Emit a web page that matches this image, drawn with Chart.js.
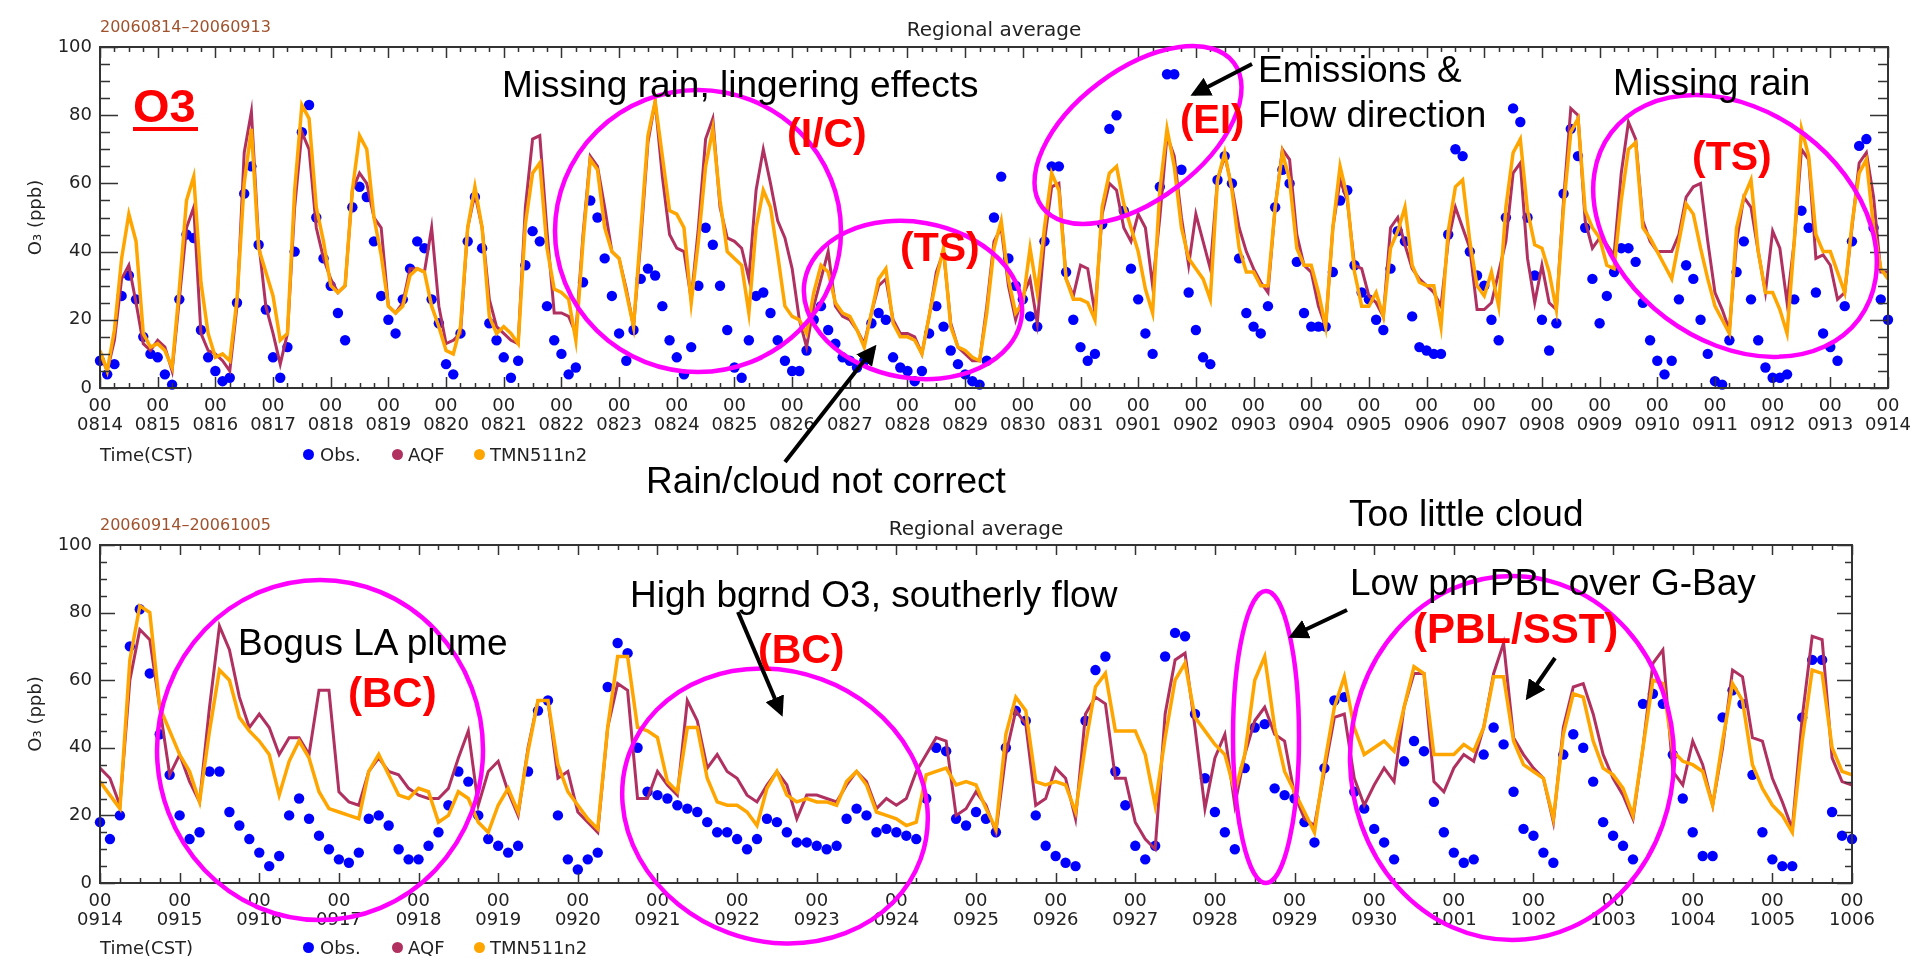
<!DOCTYPE html>
<html>
<head>
<meta charset="utf-8">
<script src="https://cdn.jsdelivr.net/npm/chart.js@4.4.1/dist/chart.umd.min.js"></script>
<style>
  html, body { margin: 0; padding: 0; background: #fff; }
  body { width: 1923px; height: 964px; position: relative; overflow: hidden; font-family: "DejaVu Sans", sans-serif; }
  canvas { position: absolute; left: 0; }
  .lbl { position: absolute; white-space: nowrap; line-height: 1; }
  .date { color: #a0522d; font-size: 16px; }
  .ttl { color: #222; font-size: 20px; transform: translateX(-50%); }
  .leg { color: #222; font-size: 18px; }
  .dot { position: absolute; width: 11px; height: 11px; border-radius: 50%; }
  svg { position: absolute; left: 0; top: 0; }
  svg text { font-family: "Liberation Sans", Arial, sans-serif; }
  .note { font-size: 37px; fill: #000; }
  .red { font-weight: bold; fill: #ff0000; }
</style>
</head>
<body>

<canvas id="topChart" width="1923" height="480" style="top:0px"></canvas>
<canvas id="botChart" width="1923" height="484" style="top:480px"></canvas>

<div class="lbl date" style="left:100px; top:19px">20060814&#8211;20060913</div>
<div class="lbl ttl" style="left:994px; top:19px">Regional average</div>
<div class="lbl leg" style="left:100px; top:446px">Time(CST)</div>
<div class="dot" style="left:303px; top:449px; background:#0000ff"></div>
<div class="lbl leg" style="left:320px; top:446px">Obs.</div>
<div class="dot" style="left:392px; top:449px; background:#b03060"></div>
<div class="lbl leg" style="left:408px; top:446px">AQF</div>
<div class="dot" style="left:474px; top:449px; background:#ffa500"></div>
<div class="lbl leg" style="left:490px; top:446px">TMN511n2</div>

<div class="lbl date" style="left:100px; top:517px">20060914&#8211;20061005</div>
<div class="lbl ttl" style="left:976px; top:518px">Regional average</div>
<div class="lbl leg" style="left:100px; top:939px">Time(CST)</div>
<div class="dot" style="left:303px; top:942px; background:#0000ff"></div>
<div class="lbl leg" style="left:320px; top:939px">Obs.</div>
<div class="dot" style="left:392px; top:942px; background:#b03060"></div>
<div class="lbl leg" style="left:408px; top:939px">AQF</div>
<div class="dot" style="left:474px; top:942px; background:#ffa500"></div>
<div class="lbl leg" style="left:490px; top:939px">TMN511n2</div>

<svg width="1923" height="964" viewBox="0 0 1923 964">
  <defs>
    <marker id="head" markerWidth="5" markerHeight="5" refX="4" refY="2.5" orient="auto" markerUnits="strokeWidth">
      <path d="M0,0 L5,2.5 L0,5 z" fill="#000"></path>
    </marker>
  </defs>
  <g fill="none" stroke="#ff00ff" stroke-width="4.5">
    <ellipse cx="698" cy="231" rx="143" ry="141"></ellipse>
    <ellipse cx="913" cy="300" rx="110" ry="78" transform="rotate(10 913 300)"></ellipse>
    <ellipse cx="1138" cy="135" rx="120" ry="65" transform="rotate(-37 1138 135)"></ellipse>
    <ellipse cx="1735" cy="226" rx="155" ry="115" transform="rotate(37 1735 226)"></ellipse>
    <ellipse cx="320" cy="750" rx="163" ry="170"></ellipse>
    <ellipse cx="775" cy="806" rx="155" ry="135" transform="rotate(20 775 806)"></ellipse>
    <ellipse cx="1266" cy="737" rx="33" ry="146"></ellipse>
    <ellipse cx="1512" cy="758" rx="162" ry="182"></ellipse>
  </g>
  <g stroke="#000" stroke-width="4" marker-end="url(#head)">
    <line x1="785" y1="462" x2="874" y2="348"></line>
    <line x1="1252" y1="64" x2="1194" y2="94"></line>
    <line x1="738" y1="612" x2="781" y2="713"></line>
    <line x1="1347" y1="610" x2="1292" y2="636"></line>
    <line x1="1555" y1="658" x2="1528" y2="697"></line>
  </g>
  <text class="red" x="133" y="122" font-size="47">O3</text>
  <rect x="133" y="127" width="65" height="4" fill="#ff0000"></rect>
  <text class="note" x="502" y="97">Missing rain, lingering effects</text>
  <text class="red" x="787" y="147" font-size="41">(I/C)</text>
  <text class="red" x="900" y="261" font-size="41">(TS)</text>
  <text class="note" x="646" y="493">Rain/cloud not correct</text>
  <text class="note" x="1258" y="82">Emissions &amp;</text>
  <text class="note" x="1258" y="127">Flow direction</text>
  <text class="red" x="1180" y="133" font-size="40">(EI)</text>
  <text class="note" x="1613" y="95">Missing rain</text>
  <text class="red" x="1692" y="170" font-size="41">(TS)</text>

  <text class="note" x="1349" y="526">Too little cloud</text>
  <text class="note" x="238" y="655">Bogus LA plume</text>
  <text class="red" x="348" y="707" font-size="42">(BC)</text>
  <text class="note" x="630" y="607">High bgrnd O3, southerly flow</text>
  <text class="red" x="758" y="663" font-size="41">(BC)</text>
  <text class="note" x="1350" y="595">Low pm PBL over G-Bay</text>
  <text class="red" x="1413" y="643" font-size="42">(PBL/SST)</text>
</svg>

<script>
// 3-hourly values (00,03,...,21 CST), one row per day, last value = 00 of the closing day
var topDays = ['0814','0815','0816','0817','0818','0819','0820','0821','0822','0823','0824',
  '0825','0826','0827','0828','0829','0830','0831','0901','0902','0903','0904','0905',
  '0906','0907','0908','0909','0910','0911','0912','0913','0914'];

var topObs = [
  8,4,7,27,33,26,15,10,
  9,4,1,26,45,44,17,9,
  5,2,3,25,57,65,42,23,
  9,3,12,40,75,83,50,38,
  30,22,14,53,59,56,43,27,
  20,16,26,35,43,41,26,19,
  7,4,16,43,56,41,19,14,
  9,3,8,36,46,43,24,14,
  10,4,6,31,55,50,38,27,
  16,8,17,32,35,33,24,14,
  9,4,12,30,47,42,30,17,
  6,3,14,27,28,22,14,8,
  5,5,11,20,24,17,13,9,
  8,6,8,19,22,20,9,6,
  5,2,5,16,24,18,11,7,
  4,2,1,8,50,62,38,30,
  26,21,18,43,65,65,34,20,
  12,8,10,48,76,80,52,35,
  26,16,10,59,92,92,64,28,
  17,9,7,61,68,60,38,22,
  18,16,24,53,64,60,37,22,
  18,18,18,34,55,58,36,28,
  26,20,17,35,46,43,21,12,
  11,10,10,45,70,68,40,33,
  30,20,14,50,82,78,50,33,
  20,11,19,57,76,68,47,32,
  19,27,34,41,41,37,25,14,
  8,4,8,26,36,32,20,10,
  2,1,14,34,43,26,14,6,
  3,3,4,26,52,47,28,16,
  12,8,24,43,71,73,47,26,
  20
];

var topAqf = [
  10,5,14,32,36,25,13,11,
  14,12,5,26,47,53,16,11,
  10,8,5,24,69,81,43,24,
  16,7,16,53,75,70,47,38,
  32,28,30,58,63,60,50,47,
  24,22,25,35,35,34,47,24,
  13,14,16,47,57,47,26,18,
  16,14,13,53,73,74,46,22,
  22,21,16,45,68,65,53,40,
  38,29,18,43,72,84,62,45,
  41,40,26,47,73,79,53,44,
  43,41,32,58,70,60,49,44,
  35,20,12,24,32,40,24,21,
  20,17,13,22,30,32,20,16,
  16,15,10,21,34,40,19,12,
  10,8,8,24,43,47,30,20,
  27,32,19,43,59,60,32,27,
  36,35,22,51,60,58,47,43,
  51,47,30,50,74,68,50,36,
  51,43,35,61,68,59,47,40,
  35,31,28,53,70,67,45,36,
  34,24,18,47,61,55,36,35,
  27,25,21,47,50,42,35,32,
  30,28,24,43,53,47,41,23,
  23,25,34,43,63,66,38,25,
  36,25,23,55,82,80,49,41,
  44,42,39,63,78,73,49,43,
  40,40,40,45,56,59,60,43,
  28,23,17,43,56,53,40,28,
  46,41,25,43,70,67,38,39,
  36,26,28,47,66,69,56,34,
  34
];

var topTmn = [
  11,5,17,38,51,43,16,12,
  13,11,6,29,55,62,31,16,
  9,10,8,26,60,76,41,34,
  27,14,16,58,83,79,53,43,
  30,28,30,58,74,70,50,39,
  24,22,24,33,35,34,24,18,
  11,10,18,47,59,47,21,16,
  18,16,13,48,63,66,41,29,
  28,26,14,43,67,64,47,40,
  38,28,18,46,74,84,68,52,
  51,47,25,43,65,76,55,40,
  38,36,22,47,58,53,39,24,
  21,20,16,28,36,34,25,22,
  21,17,12,22,32,35,19,15,
  15,14,10,21,32,41,18,12,
  11,9,8,22,41,49,32,22,
  25,41,28,47,63,58,32,26,
  26,25,20,53,63,65,54,47,
  40,29,22,58,76,65,47,38,
  35,32,26,61,69,58,41,34,
  34,30,30,53,69,61,41,36,
  36,28,18,47,65,56,34,24,
  24,28,21,41,46,53,36,31,
  30,30,18,46,59,61,43,30,
  27,34,24,53,69,73,52,42,
  41,34,23,53,75,79,52,47,
  44,36,35,55,70,72,47,44,
  40,36,32,43,54,51,41,32,
  24,20,16,47,56,61,40,28,
  28,23,16,43,76,68,45,40,
  40,34,28,48,63,67,47,35,
  32
];

var botDays = ['0914','0915','0916','0917','0918','0919','0920','0921','0922','0923','0924',
  '0925','0926','0927','0928','0929','0930','1001','1002','1003','1004','1005','1006'];

var botObs = [
  18,13,20,70,81,62,44,32,
  20,13,15,33,33,21,17,13,
  9,5,8,20,25,19,14,10,
  7,6,9,19,20,17,10,7,
  7,11,15,23,33,30,20,13,
  11,9,11,33,51,54,20,7,
  4,7,9,58,71,68,40,27,
  26,25,23,22,21,18,15,15,
  13,10,13,19,18,15,12,12,
  11,10,11,19,22,20,15,16,
  15,14,13,25,40,39,19,17,
  21,19,15,40,51,48,20,11,
  8,6,5,48,63,67,33,23,
  11,7,11,67,74,73,50,31,
  21,15,10,34,46,47,28,26,
  25,18,12,34,54,55,27,22,
  16,12,7,36,42,39,24,15,
  9,6,7,38,46,41,27,16,
  14,9,6,38,44,40,30,18,
  14,11,7,53,56,53,38,25,
  15,8,8,49,57,53,32,15,
  7,5,5,49,66,66,21,14,
  13
];

var botAqf = [
  34,31,23,60,75,72,52,32,
  38,30,24,52,76,69,55,46,
  50,46,38,43,43,38,57,57,
  27,24,23,33,37,33,32,28,
  26,25,25,28,37,45,23,33,
  36,27,20,40,54,54,31,33,
  21,18,15,46,59,57,25,25,
  33,29,26,54,48,34,38,33,
  31,26,24,29,33,29,19,26,
  26,25,24,29,33,30,22,25,
  23,25,33,38,43,42,20,22,
  27,23,15,38,51,47,23,25,
  34,31,19,50,55,53,31,31,
  18,13,10,50,66,68,46,22,
  37,44,23,38,48,52,44,42,
  26,19,17,33,49,50,31,23,
  29,34,30,52,62,62,30,27,
  34,38,36,46,62,71,43,38,
  34,31,18,46,58,59,50,38,
  31,26,19,40,65,69,33,29,
  42,35,23,40,63,61,43,42,
  31,24,16,49,73,72,37,30,
  29
];

var botTmn = [
  30,26,22,66,82,80,52,45,
  38,33,24,45,63,60,49,45,
  42,38,26,36,42,37,27,22,
  21,20,19,33,38,32,26,25,
  28,27,18,20,27,25,18,15,
  23,28,21,39,54,54,35,27,
  23,19,16,46,67,67,46,45,
  43,30,27,46,46,31,24,23,
  23,21,17,28,33,26,24,25,
  24,24,23,30,33,29,21,20,
  19,17,18,32,33,34,29,30,
  29,22,16,44,55,51,30,29,
  30,29,21,41,58,62,45,45,
  45,38,23,43,60,65,49,45,
  41,38,27,38,60,67,46,33,
  27,21,15,35,52,61,46,38,
  40,42,39,52,64,62,38,38,
  38,41,39,46,61,61,42,35,
  33,31,19,44,56,55,42,34,
  32,28,20,40,60,59,39,36,
  35,33,23,42,59,54,35,28,
  23,20,15,42,63,62,40,33,
  32
];

var tickFont = { family: 'DejaVu Sans', size: 18, lineHeight: 1.05 };

function toPoints(vals)
{
  return vals.map(function(v, i){ return { x: i * 3, y: v }; });
}

// box round the plot with IDL style ticks pointing inward
var idlFrame = {
  id: 'idlFrame',
  afterDatasetsDraw: function(chart, args, opts) {
    var ctx = chart.ctx, a = chart.chartArea;
    var xs = chart.scales.x, ys = chart.scales.y;
    ctx.save();
    ctx.strokeStyle = '#333';
    ctx.lineWidth = 2;
    ctx.strokeRect(a.left, a.top, a.right - a.left, a.bottom - a.top);
    ctx.lineWidth = 1.5;
    ctx.beginPath();
    for (var h = 0; h <= xs.max; h += 6) {
      var px = Math.round(xs.getPixelForValue(h)) + 0.5;
      var len = (h % 24 === 0) ? opts.xMajor : opts.xMinor;
      ctx.moveTo(px, a.bottom); ctx.lineTo(px, a.bottom - len);
      ctx.moveTo(px, a.top); ctx.lineTo(px, a.top + len);
    }
    for (var v = 0; v <= 100; v += 5) {
      var py = Math.round(ys.getPixelForValue(v)) + 0.5;
      var l2 = (v % 20 === 0) ? opts.yMajor : opts.yMinor;
      ctx.moveTo(a.left, py); ctx.lineTo(a.left + l2, py);
      ctx.moveTo(a.right, py); ctx.lineTo(a.right - l2, py);
    }
    ctx.stroke();
    ctx.restore();
  }
};

function makeChart(id, days, obs, aqf, tmn, box)
{
  var ctx = document.getElementById(id).getContext('2d');
  return new Chart(ctx, {
    type: 'line',
    data: {
      datasets: [
        {
          label: 'TMN511n2',
          data: toPoints(tmn),
          borderColor: '#ffa500',
          borderWidth: 3.5,
          pointRadius: 0,
          tension: 0,
          order: 1
        },
        {
          label: 'AQF',
          data: toPoints(aqf),
          borderColor: '#b03060',
          borderWidth: 3,
          pointRadius: 0,
          tension: 0,
          order: 2
        },
        {
          label: 'Obs.',
          data: toPoints(obs),
          showLine: false,
          pointRadius: 5.2,
          pointBorderWidth: 0,
          pointBackgroundColor: '#0000ff',
          clip: false,
          order: 3
        }
      ]
    },
    options: {
      responsive: false,
      animation: false,
      devicePixelRatio: 1,
      layout: { padding: { top: box.top, right: box.right, left: 0, bottom: 0 } },
      plugins: {
        legend: { display: false },
        tooltip: { enabled: false },
        idlFrame: box.ticks
      },
      scales: {
        x: {
          type: 'linear',
          min: 0,
          max: (days.length - 1) * 24,
          grid: { display: false, drawTicks: false },
          border: { display: false },
          afterFit: function(scale) { scale.height = box.xHeight; },
          ticks: {
            stepSize: 24,
            autoSkip: false,
            maxRotation: 0,
            padding: 9,
            color: '#222',
            font: tickFont,
            callback: function(v) {
              return (v % 24 === 0) ? ['00', days[v / 24]] : '';
            }
          }
        },
        y: {
          min: 0,
          max: 100,
          grid: { display: false, drawTicks: false },
          border: { display: false },
          afterFit: function(scale) { scale.width = 100; },
          ticks: { stepSize: 20, padding: 8, color: '#222', font: tickFont },
          title: {
            display: true,
            text: 'O\u2083 (ppb)',
            color: '#222',
            font: { family: 'DejaVu Sans', size: 18 },
            padding: { top: 26, bottom: 0 }
          }
        }
      }
    },
    plugins: [idlFrame]
  });
}

makeChart('topChart', topDays, topObs, topAqf, topTmn,
  { top: 47, right: 35, xHeight: 92, ticks: { xMajor: 11, xMinor: 5, yMajor: 18, yMinor: 10 } });
makeChart('botChart', botDays, botObs, botAqf, botTmn,
  { top: 65, right: 71, xHeight: 81, ticks: { xMajor: 10, xMinor: 5, yMajor: 15, yMinor: 7 } });
</script>
</body>
</html>
